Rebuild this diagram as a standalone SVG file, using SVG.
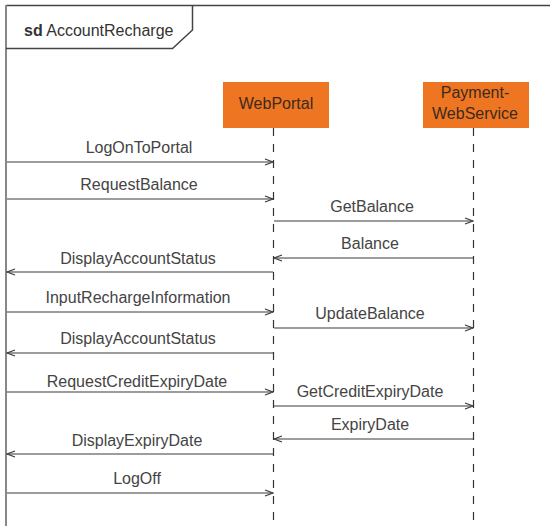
<svg xmlns="http://www.w3.org/2000/svg" width="550" height="526" viewBox="0 0 550 526">
  <style>
    .frame { fill: none; stroke: #444; stroke-width: 1.5; }
    .frame-left { fill: none; stroke: #888; stroke-width: 2; }
    .title { font-family: "Liberation Sans", Arial, sans-serif; font-size: 16px; fill: #333; }
    .head { fill: #EE7623; }
    .head-text { font-family: "Liberation Sans", Arial, sans-serif; font-size: 16px; fill: #3d2a1c; text-anchor: middle; }
    .life { stroke: #333; stroke-width: 1.2; stroke-dasharray: 8 8; fill: none; }
    .msg { stroke: #3a3a3a; stroke-width: 1.2; fill: none; marker-end: url(#open); }
    .label { font-family: "Liberation Sans", Arial, sans-serif; font-size: 16px; fill: #444; text-anchor: middle; }
  </style>
  <defs>
    <marker id="open" viewBox="0 0 10 8" refX="9" refY="4" markerWidth="10" markerHeight="8" markerUnits="userSpaceOnUse" orient="auto">
      <path d="M1,1 L9,4 L1,7" fill="none" stroke="#3a3a3a" stroke-width="1.2"/>
    </marker>
  </defs>

  <!-- interaction frame -->
  <g id="frame">
    <line class="frame" x1="6" y1="5.5" x2="550" y2="5.5"/>
    <line class="frame-left" x1="6" y1="5" x2="6" y2="526"/>
    <path class="frame" d="M6,48.5 H172.5 L192.5,30 V5.5"/>
    <text class="title" x="24" y="36"><tspan font-weight="bold">sd</tspan> AccountRecharge</text>
  </g>

  <!-- lifelines -->
  <g id="WebPortal">
    <rect class="head" x="223" y="82" width="106" height="46"/>
    <text class="head-text" x="276" y="109">WebPortal</text>
    <line class="life" x1="273.5" y1="128" x2="273.5" y2="526"/>
  </g>
  <g id="PaymentWebService">
    <rect class="head" x="423" y="82" width="106" height="46"/>
    <text class="head-text" x="475" y="98">Payment-</text>
    <text class="head-text" x="475" y="119">WebService</text>
    <line class="life" x1="473.5" y1="128" x2="473.5" y2="526"/>
  </g>

  <!-- messages -->
  <g id="connectors">
    <line class="msg" x1="7" y1="162" x2="273" y2="162"/>
    <text class="label" x="139" y="153">LogOnToPortal</text>

    <line class="msg" x1="7" y1="199" x2="273" y2="199"/>
    <text class="label" x="139" y="190">RequestBalance</text>

    <line class="msg" x1="274" y1="221" x2="473" y2="221"/>
    <text class="label" x="372" y="212">GetBalance</text>

    <line class="msg" x1="473" y1="258" x2="274" y2="258"/>
    <text class="label" x="370" y="249">Balance</text>

    <line class="msg" x1="273" y1="272" x2="7" y2="272"/>
    <text class="label" x="138" y="264">DisplayAccountStatus</text>

    <line class="msg" x1="7" y1="312" x2="273" y2="312"/>
    <text class="label" x="138" y="303">InputRechargeInformation</text>

    <line class="msg" x1="274" y1="328" x2="473" y2="328"/>
    <text class="label" x="370" y="319">UpdateBalance</text>

    <line class="msg" x1="273" y1="353" x2="7" y2="353"/>
    <text class="label" x="138" y="344">DisplayAccountStatus</text>

    <line class="msg" x1="7" y1="392" x2="273" y2="392"/>
    <text class="label" x="137" y="387">RequestCreditExpiryDate</text>

    <line class="msg" x1="274" y1="406" x2="473" y2="406"/>
    <text class="label" x="370" y="397">GetCreditExpiryDate</text>

    <line class="msg" x1="473" y1="439" x2="274" y2="439"/>
    <text class="label" x="370" y="430">ExpiryDate</text>

    <line class="msg" x1="273" y1="454" x2="7" y2="454"/>
    <text class="label" x="137" y="446">DisplayExpiryDate</text>

    <line class="msg" x1="7" y1="493" x2="273" y2="493"/>
    <text class="label" x="137" y="484">LogOff</text>
  </g>
</svg>
